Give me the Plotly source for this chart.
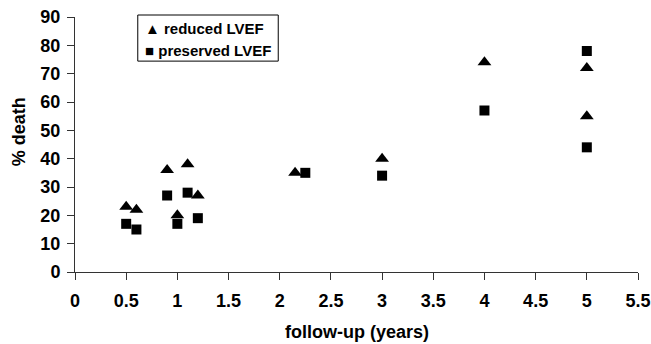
import plotly.graph_objects as go

reduced_x = [0.5, 0.6, 0.9, 1.0, 1.1, 1.2, 2.15, 3.0, 4.0, 5.0, 5.0]
reduced_y = [23, 22, 36, 20, 38, 27, 35, 40, 74, 72, 55]
preserved_x = [0.5, 0.6, 0.9, 1.0, 1.1, 1.2, 2.25, 3.0, 4.0, 5.0, 5.0]
preserved_y = [17, 15, 27, 17, 28, 19, 35, 34, 57, 78, 44]

x_ticks = [0, 0.5, 1, 1.5, 2, 2.5, 3, 3.5, 4, 4.5, 5, 5.5]
y_ticks = [0, 10, 20, 30, 40, 50, 60, 70, 80, 90]

font_family = "Liberation Sans, Arial, sans-serif"
bold = dict(family=font_family, color="black", weight="bold")

fig = go.Figure()
fig.add_trace(go.Scatter(
    x=reduced_x, y=reduced_y, mode="markers", name="reduced LVEF",
    marker=dict(symbol="triangle-up", size=12, color="black"),
))
fig.add_trace(go.Scatter(
    x=preserved_x, y=preserved_y, mode="markers", name="preserved LVEF",
    marker=dict(symbol="square", size=10, color="black"),
))

axis_common = dict(
    showgrid=False, zeroline=False, showline=True, linecolor="#333",
    linewidth=1, ticks="outside", ticklen=7, tickcolor="#333",
    tickfont=dict(size=18, **bold), automargin=False,
    ticklabeloverflow="allow",
)

fig.update_layout(
    width=651, height=344,
    margin=dict(l=75, r=13, t=17, b=72),
    paper_bgcolor="white", plot_bgcolor="white",
    font=dict(family=font_family, color="black"),
    showlegend=False,
    xaxis=dict(range=[0, 5.5], tickmode="array", tickvals=x_ticks,
               ticktext=[f"{v:g}" for v in x_ticks],
               ticklabelstandoff=5, **axis_common),
    yaxis=dict(range=[0, 90], tickmode="array", tickvals=y_ticks,
               ticktext=[str(v) for v in y_ticks],
               ticklabelstandoff=3, **axis_common),
    shapes=[dict(type="rect", xref="paper", yref="paper",
                 x0=0.1115, x1=0.361, y0=0.827, y1=1.0078,
                 line=dict(color="black", width=1), fillcolor="white",
                 layer="above")],
    annotations=[
        dict(text="▲ reduced LVEF", xref="paper", yref="paper",
             x=0.1204, y=0.9557, xanchor="left", yanchor="middle",
             showarrow=False, font=dict(size=15, **bold)),
        dict(text="■ preserved LVEF", xref="paper", yref="paper",
             x=0.1204, y=0.8678, xanchor="left", yanchor="middle",
             showarrow=False, font=dict(size=15, **bold)),
        dict(text="follow-up (years)", xref="paper", yref="paper",
             x=0.5, y=-0.237, xanchor="center", yanchor="middle",
             showarrow=False, font=dict(size=18, **bold)),
        dict(text="% death", xref="paper", yref="paper",
             x=-0.0991, y=0.549, xanchor="center", yanchor="middle",
             textangle=-90, showarrow=False, font=dict(size=18, **bold)),
    ],
)

fig.write_html(
    "out.html",
    config={"displayModeBar": False},
    post_script="document.body.style.margin='0';document.body.style.overflow='hidden';",
)
